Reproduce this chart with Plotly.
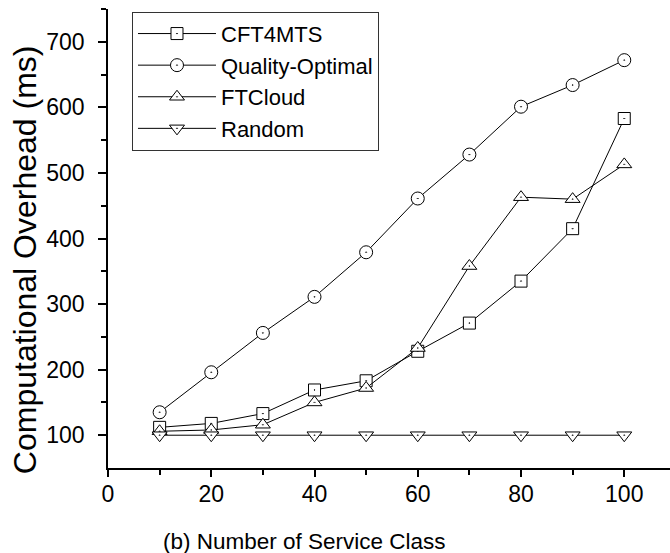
import plotly.graph_objects as go

x_classes = [10, 20, 30, 40, 50, 60, 70, 80, 90, 100]
cft4mts = [112, 118, 133, 169, 183, 228, 271, 335, 415, 583]
quality_optimal = [135, 196, 256, 311, 379, 461, 528, 601, 634, 672]
ftcloud = [106, 108, 116, 150, 172, 233, 358, 463, 460, 513]
random_sel = [100, 100, 100, 100, 100, 100, 100, 100, 100, 100]

series = [
    ("CFT4MTS", cft4mts, "square-dot", 12),
    ("Quality-Optimal", quality_optimal, "circle-dot", 13),
    ("FTCloud", ftcloud, "triangle-up-dot", 13),
    ("Random", random_sel, "triangle-down-dot", 13),
]

FONT = "Liberation Sans, Arial, sans-serif"

fig = go.Figure()
for name, vals, sym, sz in series:
    fig.add_trace(go.Scatter(
        x=x_classes, y=vals, name=name, mode="lines+markers",
        line=dict(color="black", width=1),
        marker=dict(symbol=sym, size=sz, color="white",
                    line=dict(color="black", width=1)),
    ))

fig.update_layout(
    width=670, height=553,
    margin=dict(l=108, r=0, t=9, b=85),
    plot_bgcolor="white", paper_bgcolor="white",
    font=dict(family=FONT, color="black", size=23),
    showlegend=True,
    legend=dict(
        x=0.0427, y=0.994, xanchor="left", yanchor="top",
        bordercolor="#333333", borderwidth=1, bgcolor="white",
        font=dict(family=FONT, size=22, color="black"),
        itemwidth=78,
        tracegroupgap=0,
    ),
    xaxis=dict(
        range=[0, 108.86], showgrid=False, zeroline=False,
        showline=True, linecolor="black", linewidth=2,
        tickmode="array", tickvals=[0, 20, 40, 60, 80, 100],
        ticks="outside", ticklen=7, tickwidth=1.5, tickcolor="black",
        tickfont=dict(family=FONT, size=23),
        ticklabelstandoff=-3,
        minor=dict(tickvals=[10, 30, 50, 70, 90], ticks="outside",
                   ticklen=5, tickwidth=1.5, tickcolor="black"),
    ),
    yaxis=dict(
        range=[50, 750], showgrid=False, zeroline=False,
        showline=True, linecolor="black", linewidth=1.5,
        tickmode="array", tickvals=[100, 200, 300, 400, 500, 600, 700],
        ticks="outside", ticklen=8, tickwidth=1.5, tickcolor="black",
        tickfont=dict(family=FONT, size=23),
        ticklabelstandoff=9,
        minor=dict(tickvals=[150, 250, 350, 450, 550, 650, 750], ticks="outside",
                   ticklen=5, tickwidth=1.5, tickcolor="black"),
    ),
    annotations=[
        dict(text="Computational Overhead (ms)", xref="paper", yref="paper",
             x=-0.1477, y=0.455, xanchor="center", yanchor="middle",
             textangle=-90, showarrow=False,
             font=dict(family=FONT, size=32, color="black")),
        dict(text="(b) Number of Service Class", xref="paper", yref="paper",
             x=0.3505, y=-0.1597, xanchor="center", yanchor="middle",
             showarrow=False,
             font=dict(family=FONT, size=22.5, color="black")),
    ],
)

fig.write_html("out.html", config={"displayModeBar": False},
               post_script="document.body.style.margin='0';document.body.style.padding='0';")
